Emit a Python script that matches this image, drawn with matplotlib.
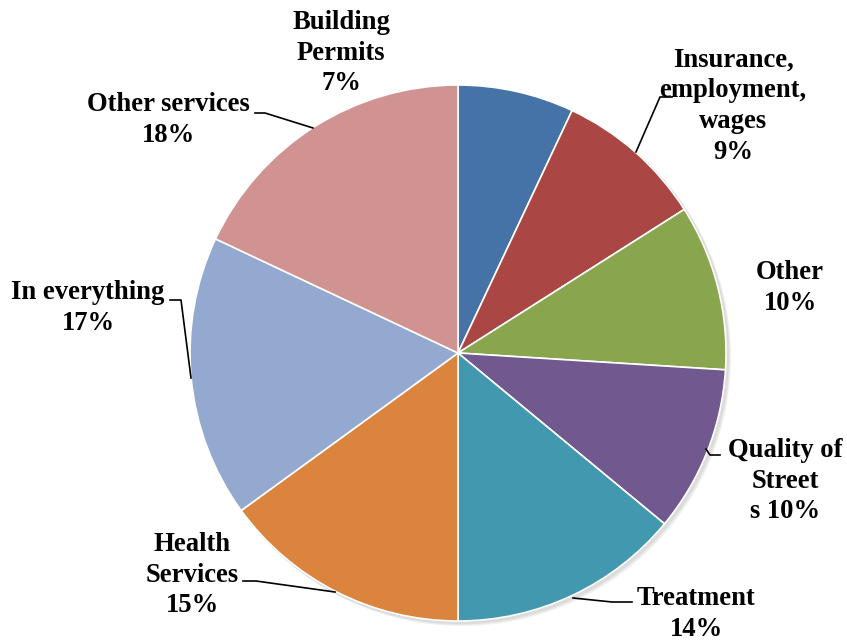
import matplotlib
matplotlib.use("Agg")
import matplotlib.pyplot as plt
from matplotlib.patches import Circle

categories = ["Building\nPermits", "Insurance,\nemployment,\nwages", "Other",
              "Quality of\nStreet\ns", "Treatment", "Health\nServices",
              "In everything", "Other services"]
shares = [7, 9, 10, 10, 14, 15, 17, 18]
colors = ["#4572A7", "#AA4643", "#89A54E", "#71588F", "#4198AF", "#DB843D",
          "#93A9CF", "#D19392"]

W, H = 847, 641
fig = plt.figure(figsize=(W / 100, H / 100), dpi=100)
ax = fig.add_axes([0, 0, 1, 1])

cx, cy, r = 458, H - 353, 268

# soft drop shadow beneath the pie
for i, a in enumerate([0.10, 0.10, 0.10]):
    ax.add_patch(Circle((cx + 2 + i, cy - 2 - i), r + 1, color="#808080",
                        alpha=a, lw=0, zorder=0))

ax.pie(shares, colors=colors, startangle=90, counterclock=False,
       center=(cx, cy), radius=r, frame=True,
       wedgeprops=dict(edgecolor="white", linewidth=1.2))
ax.set_xlim(0, W)
ax.set_ylim(0, H)
ax.set_aspect("equal")
ax.axis("off")

font = dict(family="Liberation Serif", fontweight="bold", fontsize=19.2,
            ha="center", va="center", color="black", linespacing=1.3)

labels = [f"{c} {s}%" if c.endswith("\ns") else f"{c}\n{s}%"
          for c, s in zip(categories, shares)]
# label centers (x, y from the top) for each slice
label_pos = [(341, 53), (733, 106), (790, 288), (785, 481),
             (696, 614), (192, 575), (88, 308), (168, 120)]
for text, (x, y) in zip(labels, label_pos):
    ax.text(x, H - y, text, **font)

# leader lines from labels to slices
leaders = [
    [(255, 113), (265, 113), (313, 128)],
    [(672, 97), (660, 97), (636, 152)],
    [(720, 455), (710, 455), (706, 449)],
    [(243, 581), (256, 581), (335, 592)],
    [(632, 602), (612, 602), (573, 598)],
    [(170, 300), (181, 300), (191, 378)],
]
for pts in leaders:
    xs = [p[0] for p in pts]
    ys = [H - p[1] for p in pts]
    ax.plot(xs, ys, color="black", lw=1.2, zorder=5)

fig.savefig("out.png", dpi=100)
